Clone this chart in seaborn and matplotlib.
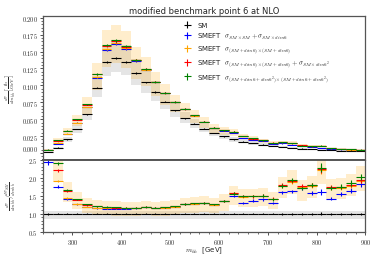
import numpy as np
import matplotlib
matplotlib.use("Agg")
import matplotlib.pyplot as plt
import seaborn as sns
from matplotlib.ticker import FuncFormatter, MultipleLocator

# m_hh bins (GeV)
edges = np.arange(240, 901, 20)

# SM differential cross section [fb/GeV]
sm = [0.0016, 0.0080, 0.0200, 0.0355, 0.0572, 0.0968, 0.1340, 0.1410, 0.1350, 0.1180,
      0.1046, 0.0902, 0.0758, 0.0630, 0.0514, 0.0430, 0.0358, 0.0298, 0.0248, 0.0200,
      0.0170, 0.0145, 0.0125, 0.0108, 0.0090, 0.0077, 0.0065, 0.0055, 0.0047, 0.0040,
      0.0034, 0.0029, 0.0025]

# SMEFT / SM ratios
ratio_blue = [2.43, 1.75, 1.40, 1.26, 1.19, 1.15, 1.14, 1.14, 1.14, 1.15, 1.18, 1.16, 1.17,
              1.19, 1.26, 1.28, 1.29, 1.25, 1.34, 1.50, 1.30, 1.36, 1.40, 1.30, 1.59, 1.62,
              1.70, 1.58, 1.60, 1.42, 1.55, 1.64, 1.82]
ratio_orange = [2.75, 1.91, 1.43, 1.27, 1.19, 1.16, 1.15, 1.15, 1.15, 1.16, 1.18, 1.16, 1.17,
                1.19, 1.26, 1.28, 1.29, 1.25, 1.35, 1.57, 1.47, 1.48, 1.49, 1.41, 1.78, 1.88,
                1.74, 1.78, 2.22, 1.72, 1.72, 1.78, 1.92]
ratio_red = [3.00, 2.20, 1.63, 1.39, 1.25, 1.20, 1.18, 1.17, 1.16, 1.16, 1.19, 1.17, 1.18,
             1.20, 1.27, 1.29, 1.30, 1.26, 1.36, 1.57, 1.49, 1.48, 1.50, 1.42, 1.80, 1.90,
             1.76, 1.80, 2.25, 1.74, 1.74, 1.80, 1.94]
ratio_green = [3.20, 2.40, 1.65, 1.40, 1.26, 1.21, 1.19, 1.18, 1.17, 1.16, 1.19, 1.17, 1.18,
               1.20, 1.27, 1.29, 1.30, 1.26, 1.36, 1.56, 1.48, 1.49, 1.50, 1.40, 1.78, 1.94,
               1.70, 1.80, 2.28, 1.71, 1.75, 1.85, 2.03]

# relative MC stat error per bin
stat_rel = [0.03, 0.02, 0.015, 0.012, 0.01, 0.01, 0.01, 0.01, 0.01, 0.01, 0.01, 0.01, 0.012,
            0.012, 0.012, 0.015, 0.015, 0.015, 0.02, 0.02, 0.02, 0.025, 0.025, 0.025, 0.03,
            0.03, 0.03, 0.035, 0.05, 0.035, 0.035, 0.04, 0.04]

# scale uncertainty bands (relative lower / upper)
band_sm = (0.85, 1.18)
band_sm_ratio = (0.86, 1.07)
band_eft = (0.80, 1.14)

labels = ["SM",
          r"SMEFT  $\sigma_{SM\times SM}+\sigma_{SM\times dim6}$",
          r"SMEFT  $\sigma_{(SM+dim6)\times(SM+dim6)}$",
          r"SMEFT  $\sigma_{(SM+dim6)\times(SM+dim6)}+\sigma_{SM\times dim6^2}$",
          r"SMEFT  $\sigma_{(SM+dim6+dim6^2)\times(SM+dim6+dim6^2)}$"]
colors = ["black", "blue", "orange", "red", "green"]

sns.set_theme(style="ticks")
plt.rcParams["font.family"] = ["DejaVu Sans"]
plt.rcParams["mathtext.fontset"] = "cm"

sm = np.array(sm)
ratios = [np.ones_like(sm)] + [np.array(r) for r in (ratio_blue, ratio_orange, ratio_red, ratio_green)]
stat = np.array(stat_rel)
centers = 0.5 * (edges[:-1] + edges[1:])
halfw = 0.5 * (edges[1] - edges[0])

fig = plt.figure(figsize=(3.71, 2.55), dpi=100)
ax1 = fig.add_axes([0.116, 0.370, 0.869, 0.563])
ax2 = fig.add_axes([0.116, 0.0875, 0.869, 0.2825], sharex=ax1)

# bands
eft = sm * ratios[4]
ax1.stairs(sm * band_sm[1], edges, baseline=sm * band_sm[0], fill=True, color="gray", alpha=0.2, lw=0)
ax1.stairs(eft * band_eft[1], edges, baseline=eft * band_eft[0], fill=True, color="orange", alpha=0.2, lw=0)
ax2.stairs(np.full_like(sm, band_sm_ratio[1]), edges, baseline=np.full_like(sm, band_sm_ratio[0]),
           fill=True, color="gray", alpha=0.2, lw=0)
ax2.stairs(ratios[4] * band_eft[1], edges, baseline=ratios[4] * band_eft[0],
           fill=True, color="orange", alpha=0.2, lw=0)

for r, c, lab in zip(ratios, colors, labels):
    vals = sm * r
    ax1.errorbar(centers, vals, xerr=halfw, yerr=vals * stat, fmt="none",
                 ecolor=c, elinewidth=0.8, label=lab)
    ax2.errorbar(centers, r, xerr=halfw, yerr=r * stat * (1.0 if c != "black" else 0.8),
                 fmt="none", ecolor=c, elinewidth=0.8)

ax1.set_xlim(240, 900)
ax1.set_ylim(-0.0098, 0.2024)
ax2.set_ylim(0.5, 2.5)

ax1.set_title("modified benchmark point 6 at NLO", fontsize=6, pad=2.5)
ax1.set_ylabel(r"$\frac{d\sigma}{dm_{hh}}\left[\frac{\mathrm{fb}}{\mathrm{GeV}}\right]$", fontsize=5.2)
ax2.set_ylabel(r"$\frac{d\sigma}{dm_{hh}}/\frac{d\sigma_{SM}}{dm_{hh}}$", fontsize=5.2)
ax2.set_xlabel(r"$m_{hh}$  [GeV]", fontsize=5)
ax1.yaxis.set_label_coords(-0.078, 0.5)
ax2.yaxis.set_label_coords(-0.078, 0.5)
ax2.xaxis.set_label_coords(0.5, -0.25)
ax2.xaxis.label.set_va("center")

ax1.yaxis.set_major_locator(MultipleLocator(0.025))
ax1.yaxis.set_minor_locator(MultipleLocator(0.005))
ax1.yaxis.set_major_formatter(FuncFormatter(lambda v, p: f"${v:.3f}$"))
ax2.yaxis.set_major_locator(MultipleLocator(0.5))
ax2.yaxis.set_minor_locator(MultipleLocator(0.1))
ax2.yaxis.set_major_formatter(FuncFormatter(lambda v, p: f"${v:.1f}$"))
ax2.xaxis.set_major_locator(MultipleLocator(100))
ax2.xaxis.set_minor_locator(MultipleLocator(20))
ax2.xaxis.set_major_formatter(FuncFormatter(lambda v, p: f"${v:.0f}$"))
plt.setp(ax1.get_xticklabels(), visible=False)

for ax in (ax1, ax2):
    ax.tick_params(which="major", length=2.5, width=0.6, labelsize=4.5, pad=1.2, color="#333333")
    ax.tick_params(which="minor", length=1.3, width=0.5, color="#333333")
    for s in ax.spines.values():
        s.set_color("#555555")
        s.set_linewidth(0.9)
ax1.spines["bottom"].set_linewidth(1.4)
ax2.spines["top"].set_linewidth(1.4)

ax1.legend(loc="upper left", bbox_to_anchor=(0.42, 0.99), frameon=False, fontsize=5,
           handlelength=1.2, handletextpad=0.8, labelspacing=0.35, borderaxespad=0.3)

# keep the 0.000 label clear of the ratio panel's 2.5
fig.canvas.draw()
for t in ax1.yaxis.get_major_ticks():
    if abs(t.get_loc()) < 1e-9:
        t.label1.set_va("bottom")

fig.savefig("out.png", dpi=100)
